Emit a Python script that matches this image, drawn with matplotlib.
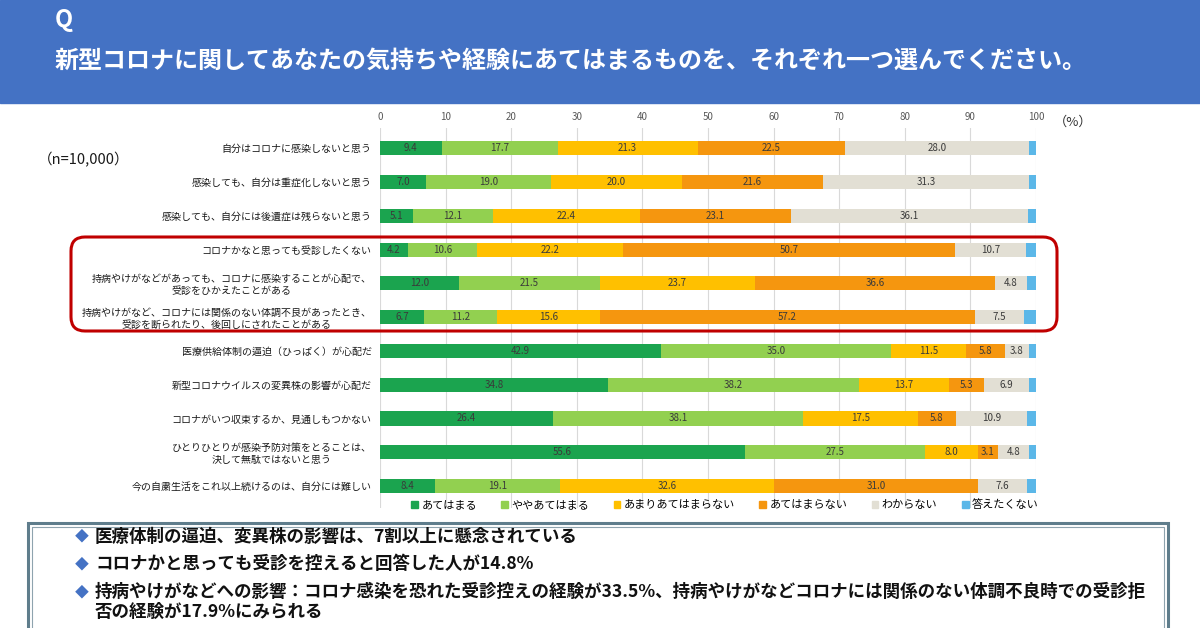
import numpy as np
import matplotlib
matplotlib.use("Agg")
import matplotlib.pyplot as plt
from matplotlib.patches import Rectangle, FancyBboxPatch, Patch

plt.rcParams['font.family'] = ['Noto Sans CJK JP', 'DejaVu Sans']

title = "新型コロナに関してあなたの気持ちや経験にあてはまるものを、それぞれ一つ選んでください。"

items = [
    "自分はコロナに感染しないと思う",
    "感染しても、自分は重症化しないと思う",
    "感染しても、自分には後遺症は残らないと思う",
    "コロナかなと思っても受診したくない",
    "持病やけがなどがあっても、コロナに感染することが心配で、\n受診をひかえたことがある",
    "持病やけがなど、コロナには関係のない体調不良があったとき、\n受診を断られたり、後回しにされたことがある",
    "医療供給体制の逼迫（ひっぱく）が心配だ",
    "新型コロナウイルスの変異株の影響が心配だ",
    "コロナがいつ収束するか、見通しもつかない",
    "ひとりひとりが感染予防対策をとることは、\n決して無駄ではないと思う",
    "今の自粛生活をこれ以上続けるのは、自分には難しい",
]

answers = ["あてはまる", "ややあてはまる", "あまりあてはまらない", "あてはまらない", "わからない", "答えたくない"]
colors = ["#1BA44F", "#92D050", "#FFC000", "#F5960F", "#E2DFD4", "#5BB7E8"]

atehamaru = [9.4, 7.0, 5.1, 4.2, 12.0, 6.7, 42.9, 34.8, 26.4, 55.6, 8.4]
yaya = [17.7, 19.0, 12.1, 10.6, 21.5, 11.2, 35.0, 38.2, 38.1, 27.5, 19.1]
amari = [21.3, 20.0, 22.4, 22.2, 23.7, 15.6, 11.5, 13.7, 17.5, 8.0, 32.6]
atehamaranai = [22.5, 21.6, 23.1, 50.7, 36.6, 57.2, 5.8, 5.3, 5.8, 3.1, 31.0]
wakaranai = [28.0, 31.3, 36.1, 10.7, 4.8, 7.5, 3.8, 6.9, 10.9, 4.8, 7.6]
kotaetakunai = [1.1, 1.1, 1.2, 1.6, 1.4, 1.8, 1.0, 1.1, 1.3, 1.0, 1.3]
series = [atehamaru, yaya, amari, atehamaranai, wakaranai, kotaetakunai]

notes = [
    "医療体制の逼迫、変異株の影響は、7割以上に懸念されている",
    "コロナかと思っても受診を控えると回答した人が14.8%",
    "持病やけがなどへの影響：コロナ感染を恐れた受診控えの経験が33.5%、持病やけがなどコロナには関係のない体調不良時での受診拒\n否の経験が17.9%にみられる",
]

W, H = 1200, 628
fig = plt.figure(figsize=(W / 100, H / 100), dpi=100)

# chart
ax = fig.add_axes([380 / W, 1 - 508 / H, 656 / W, 380 / H])
y = np.arange(len(items))
left = np.zeros(len(items))
for k, (vals, col) in enumerate(zip(series, colors)):
    vals = np.array(vals)
    ax.barh(y, vals, left=left, height=0.42, color=col, label=answers[k])
    if k < len(series) - 1:
        for i, v in enumerate(vals):
            ax.text(left[i] + v / 2, i, f"{v:.1f}", ha="center", va="center",
                    fontsize=7, color="#3a3a3a")
    left = left + vals

ax.set_xlim(0, 100)
ax.set_ylim(len(items) - 0.35, -0.6)
ax.set_yticks(y)
ax.set_yticklabels(items, fontsize=7.2, multialignment="center", color="#1a1a1a")
ax.xaxis.tick_top()
ax.set_xticks(range(0, 101, 10))
ax.tick_params(axis="x", labelsize=7, colors="#595959", length=0, pad=4)
ax.tick_params(axis="y", length=0, pad=6)
ax.grid(axis="x", color="#d9d9d9", lw=0.8)
ax.set_axisbelow(True)
for s in ax.spines.values():
    s.set_visible(False)

handles = [Patch(color=c, label=a) for a, c in zip(answers, colors)]
fig.legend(handles=handles, loc="center", bbox_to_anchor=(725 / W, 1 - 505 / H), ncol=6,
           frameon=False, fontsize=8, handlelength=0.6, handleheight=0.6,
           handletextpad=0.3, columnspacing=2.2)

# overlay in pixel coords
ov = fig.add_axes([0, 0, 1, 1], zorder=5)
ov.set_xlim(0, W)
ov.set_ylim(H, 0)
ov.axis("off")
ov.patch.set_alpha(0)

ov.add_patch(Rectangle((0, 0), W, 103, color="#4472C4"))
ov.text(55, 20, "Q", color="white", fontsize=17, fontweight="bold", va="center")
ov.text(55, 61, title, color="white", fontsize=17.3, fontweight="bold", va="center")

ov.text(38, 160, "（n=10,000）", fontsize=10.5, va="center", color="#1a1a1a")
ov.text(1054, 122, "（%）", fontsize=9.5, va="center", color="#333333")

ov.add_patch(FancyBboxPatch((71, 237), 986, 94, boxstyle="round,pad=0,rounding_size=14",
                            fill=False, ec="#C00000", lw=2.2))

ov.add_patch(Rectangle((28, 523), 1140, 130, fc="white", ec="#5F7D8C", lw=2.2))
ov.add_patch(Rectangle((32, 527), 1132, 130, fill=False, ec="#8EA3AE", lw=0.8))

note_y = [537, 564, 592]
for ny, txt in zip(note_y, notes):
    ov.text(75, ny, "◆", color="#4472C4", fontsize=10, va="center")
    ov.text(95, ny - 9, txt, fontsize=12.6, fontweight="bold", va="top",
            color="#111111", linespacing=1.15)

fig.savefig("out.png", dpi=100)
